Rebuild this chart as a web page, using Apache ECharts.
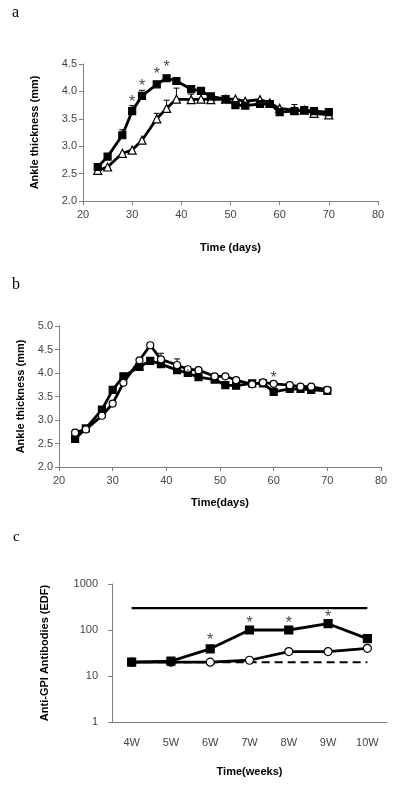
<!DOCTYPE html>
<html><head><meta charset="utf-8">
<script src="https://cdn.jsdelivr.net/npm/echarts@6/dist/echarts.min.js"></script>
<style>html,body{margin:0;padding:0;background:#fff}#c{width:400px;height:787px}</style>
</head><body><div id="c"></div>
<script>
// Panel a
const daysA = [23,25,28,30,32,35,37,39,42,44,46,49,51,53,56,58,60,63,65,67,70];
const aSquares = [2.62,2.81,3.20,3.64,3.92,4.13,4.24,4.19,4.04,4.01,3.91,3.86,3.75,3.74,3.77,3.77,3.62,3.64,3.66,3.64,3.62];
const aSquaresErr = [0.03,0.04,0.10,0.10,0.10,0.07,0.07,0.06,0.04,0.03,0.04,0.04,0.04,0.04,0.05,0.05,0.05,0.05,0.04,0.04,0.04];
const aTriangles = [2.56,2.62,2.87,2.93,3.11,3.50,3.69,3.86,3.85,3.86,3.85,3.86,3.86,3.82,3.85,3.79,3.69,3.66,3.66,3.60,3.57];
const aTrianglesErr = [0.02,0.02,0.06,0.05,0.08,0.10,0.15,0.20,0.10,0.05,0.05,0.05,0.06,0.06,0.08,0.07,0.05,0.10,0.04,0.04,0.03];
const aStars = [[30,3.80],[32,4.08],[35,4.30],[37,4.43]];
// Panel b
const daysB = [23,25,28,30,32,35,37,39,42,44,46,49,51,53,56,58,60,63,65,67,70];
const bSquares = [2.60,2.82,3.22,3.64,3.93,4.13,4.26,4.19,4.06,4.00,3.91,3.86,3.74,3.73,3.78,3.78,3.60,3.66,3.66,3.64,3.62];
const bSquaresErr = [0.03,0.04,0.08,0.10,0.10,0.05,0.05,0.05,0.04,0.04,0.03,0.03,0.04,0.04,0.03,0.03,0.03,0.03,0.03,0.03,0.03];
const bCircles = [2.73,2.80,3.09,3.35,3.79,4.27,4.59,4.29,4.17,4.08,4.06,3.93,3.93,3.85,3.76,3.80,3.77,3.74,3.71,3.71,3.64];
const bCirclesErr = [0.03,0.03,0.05,0.08,0.08,0.07,0.06,0.13,0.13,0.08,0.03,0.04,0.08,0.04,0.03,0.03,0.03,0.03,0.03,0.03,0.03];
const bStars = [[60,3.88],[44,3.92]];
// Panel c
const weeks = ['4W','5W','6W','7W','8W','9W','10W'];
const cSquares = [20,21,39,100,100,137,65];
const cCircles = [20,20,20,22,34,34,40];
const cUpper = [300,300,300,300,300,300,300];
const cLower = [20,20,20,20,20,20,20];
const cStars = [['6W',60],['7W',135],['8W',140],['9W',185]];

const chart = echarts.init(document.getElementById('c'), null, {renderer:'canvas'});
const AX = '#808080', LBL = '#444', FONT = 'Liberation Sans, Arial, sans-serif';

function errSeries(xIdx, yIdx, xs, ys, es){
  return {type:'custom', xAxisIndex:xIdx, yAxisIndex:yIdx, z:4,
    data: xs.map((x,i)=>[x, ys[i], es[i]]),
    renderItem:(p, api)=>{
      const a = api.coord([api.value(0), api.value(1)]);
      const b = api.coord([api.value(0), api.value(1)+api.value(2)]);
      const y1 = a[1]-4;
      if (b[1] > y1 - 1) return {type:'group', children:[]};
      return {type:'group', children:[
        {type:'line', shape:{x1:a[0],y1:y1,x2:b[0],y2:b[1]}, style:{stroke:'#000',lineWidth:1}},
        {type:'line', shape:{x1:b[0]-3,y1:b[1],x2:b[0]+3,y2:b[1]}, style:{stroke:'#000',lineWidth:1}}
      ]};
    }};
}
function lineSeries(xIdx, yIdx, xs, ys, symbol, fill, size, z){
  return {type:'line', xAxisIndex:xIdx, yAxisIndex:yIdx, z:z,
    data: xs.map((x,i)=>[x, ys[i]]), symbol:symbol, symbolSize:size, showAllSymbol:true,
    lineStyle:{color:'#000', width:2.8}, itemStyle:{color:fill, borderColor:'#000', borderWidth:1.2},
    animation:false};
}
function starSeries(xIdx, yIdx, pts){
  return {type:'scatter', xAxisIndex:xIdx, yAxisIndex:yIdx, symbolSize:0, data:pts, z:5,
    label:{show:true, formatter:'*', color:'#111', fontSize:16, fontFamily:FONT, position:'inside'}, silent:true};
}
const yLbl = {color:LBL, fontSize:11, fontFamily:FONT, formatter:v=>v.toFixed(1), margin:6};
const xLbl = {color:LBL, fontSize:11, fontFamily:FONT, margin:8};
const nameStyle = {color:'#000', fontSize:11, fontWeight:'bold', fontFamily:FONT};

chart.setOption({
  animation:false,
  graphic:[
    {type:'text', left:12, top:5, style:{text:'a', font:'16px "Liberation Serif", serif', fill:'#000'}},
    {type:'text', left:12, top:277, style:{text:'b', font:'16px "Liberation Serif", serif', fill:'#000'}},
    {type:'text', left:13, top:530, style:{text:'c', font:'15px "Liberation Serif", serif', fill:'#000'}}
  ],
  grid:[
    {left:83, top:64, width:295, height:137},
    {left:59, top:326, width:322, height:141},
    {left:112, top:584, width:275, height:138}
  ],
  xAxis:[
    {gridIndex:0, type:'value', min:20, max:80, interval:10, name:'Time (days)', nameLocation:'middle', nameGap:41, nameTextStyle:nameStyle,
      axisLine:{lineStyle:{color:AX}}, axisTick:{lineStyle:{color:AX}, length:4}, splitLine:{show:false}, axisLabel:xLbl},
    {gridIndex:1, type:'value', min:20, max:80, interval:10, name:'Time(days)', nameLocation:'middle', nameGap:30, nameTextStyle:nameStyle,
      axisLine:{lineStyle:{color:AX}}, axisTick:{lineStyle:{color:AX}, length:4}, splitLine:{show:false}, axisLabel:xLbl},
    {gridIndex:2, type:'category', data:weeks, boundaryGap:true, name:'Time(weeks)', nameLocation:'middle', nameGap:44, nameTextStyle:nameStyle,
      axisLine:{lineStyle:{color:AX}}, axisTick:{inside:true, lineStyle:{color:AX}, length:4}, splitLine:{show:false}, axisLabel:{color:LBL, fontSize:11, fontFamily:FONT, margin:15}}
  ],
  yAxis:[
    {gridIndex:0, type:'value', min:2, max:4.5, interval:0.5, name:'Ankle thickness (mm)', nameLocation:'middle', nameGap:43, nameTextStyle:nameStyle,
      axisLine:{show:true, lineStyle:{color:AX}}, axisTick:{show:true, lineStyle:{color:AX}, length:4}, splitLine:{show:false}, axisLabel:yLbl},
    {gridIndex:1, type:'value', min:2, max:5, interval:0.5, name:'Ankle thickness (mm)', nameLocation:'middle', nameGap:33, nameTextStyle:nameStyle,
      axisLine:{show:true, lineStyle:{color:AX}}, axisTick:{show:true, lineStyle:{color:AX}, length:4}, splitLine:{show:false}, axisLabel:yLbl},
    {gridIndex:2, type:'log', logBase:10, min:1, max:1000, name:'Anti-GPI Antibodies (EDF)', nameLocation:'middle', nameGap:62, nameTextStyle:nameStyle,
      axisLine:{show:true, lineStyle:{color:AX}}, axisTick:{show:true, lineStyle:{color:AX}, length:4}, splitLine:{show:false},
      axisLabel:{color:LBL, fontSize:11, fontFamily:FONT, margin:14, formatter:v=>String(Math.round(v))}}
  ],
  series:[
    lineSeries(0,0,daysA,aTriangles,'triangle','#fff',8,2),
    lineSeries(0,0,daysA,aSquares,'rect','#000',7,3),
    errSeries(0,0,daysA,aTriangles,aTrianglesErr),
    errSeries(0,0,daysA,aSquares,aSquaresErr),
    starSeries(0,0,aStars),
    lineSeries(1,1,daysB,bSquares,'rect','#000',7,2),
    lineSeries(1,1,daysB,bCircles,'circle','#fff',7,3),
    errSeries(1,1,daysB,bCircles,bCirclesErr),
    errSeries(1,1,daysB,bSquares,bSquaresErr),
    starSeries(1,1,bStars),
    {type:'line', xAxisIndex:2, yAxisIndex:2, data:cUpper, symbol:'none', lineStyle:{color:'#000', width:2.2}, z:1},
    {type:'line', xAxisIndex:2, yAxisIndex:2, data:cLower, symbol:'none', lineStyle:{color:'#000', width:2, type:[8,5]}, z:1},
    lineSeries(2,2,weeks,cCircles,'circle','#fff',8,2),
    lineSeries(2,2,weeks,cSquares,'rect','#000',8,3),
    starSeries(2,2,cStars)
  ]
});
</script></body></html>
